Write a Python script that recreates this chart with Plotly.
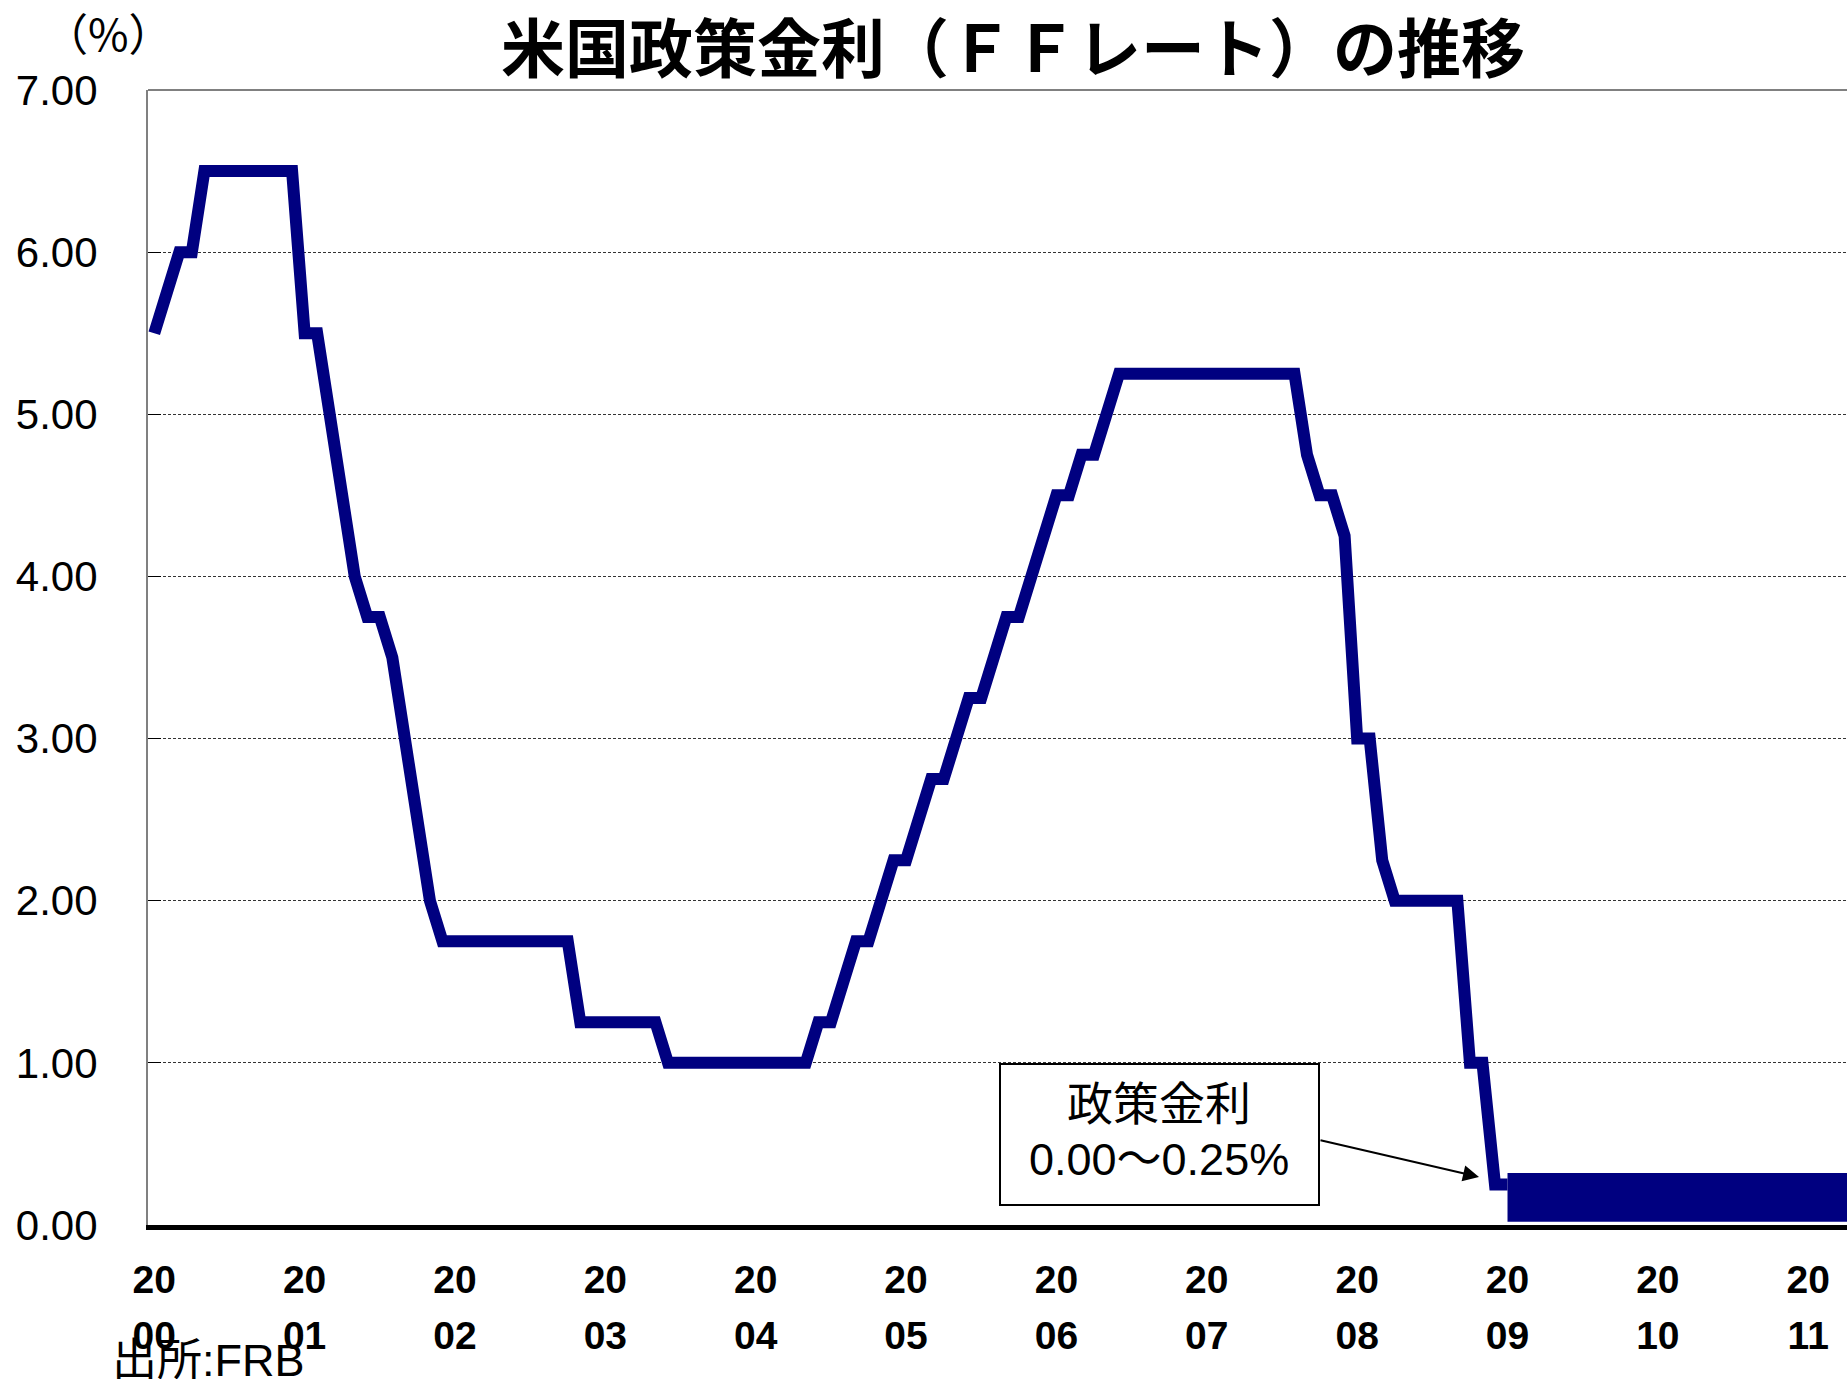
import plotly.graph_objects as go

# ---------------- data ----------------
start_month = "2000-01"
# month-end FF target rate (%), Jan 2000 .. Jan 2009
rates = [
    5.50, 5.75, 6.00, 6.00, 6.50, 6.50, 6.50, 6.50, 6.50, 6.50, 6.50, 6.50,   # 2000
    5.50, 5.50, 5.00, 4.50, 4.00, 3.75, 3.75, 3.50, 3.00, 2.50, 2.00, 1.75,   # 2001
    1.75, 1.75, 1.75, 1.75, 1.75, 1.75, 1.75, 1.75, 1.75, 1.75, 1.25, 1.25,   # 2002
    1.25, 1.25, 1.25, 1.25, 1.25, 1.00, 1.00, 1.00, 1.00, 1.00, 1.00, 1.00,   # 2003
    1.00, 1.00, 1.00, 1.00, 1.00, 1.25, 1.25, 1.50, 1.75, 1.75, 2.00, 2.25,   # 2004
    2.25, 2.50, 2.75, 2.75, 3.00, 3.25, 3.25, 3.50, 3.75, 3.75, 4.00, 4.25,   # 2005
    4.50, 4.50, 4.75, 4.75, 5.00, 5.25, 5.25, 5.25, 5.25, 5.25, 5.25, 5.25,   # 2006
    5.25, 5.25, 5.25, 5.25, 5.25, 5.25, 5.25, 5.25, 4.75, 4.50, 4.50, 4.25,   # 2007
    3.00, 3.00, 2.25, 2.00, 2.00, 2.00, 2.00, 2.00, 2.00, 1.00, 1.00, 0.25,   # 2008
    0.25,                                                                     # 2009
]
# policy-rate band (0.00-0.25%) drawn as a thick block from 2009
band_months = ["2009-01", "2011-12"]
band_low = [0.02, 0.02]
band_high = [0.32, 0.32]

tick_years = list(range(2000, 2012))
tick_century = ["20" for y in tick_years]
tick_suffix = [f"{y % 100:02d}" for y in tick_years]
y_ticks = [0, 1, 2, 3, 4, 5, 6, 7]

title_text = "米国政策金利（ＦＦレート）の推移"
unit_text = "（%）"
source_text = "出所:FRB"
box_line1 = "政策金利"
box_line2 = "0.00～0.25%"

# ---------------- helpers ----------------
def month_index(s):
    y, m = map(int, s.split("-"))
    y0, m0 = map(int, start_month.split("-"))
    return (y - y0) * 12 + (m - m0)

x_rates = list(range(len(rates)))
x_band = [month_index(s) for s in band_months]
tick_vals = [month_index(f"{y}-01") for y in tick_years]

W, H = 1847, 1379
L, T, R, B = 148, 90, 0, 154
PW, PH = W - L - R, H - T - B
MONTH_PX = 12.53

def px(xp):
    return (xp - L) / PW

def py(yp):
    return 1 - (yp - T) / PH

NAVY = "#000080"
x_range = [-0.5, -0.5 + PW / MONTH_PX]

fig = go.Figure()
# band on the overlaid axis (same range) so that axis draws its labels
fig.add_trace(go.Scatter(x=x_band, y=band_low, mode="lines", xaxis="x2",
                         line=dict(width=0, color=NAVY), hoverinfo="skip", showlegend=False))
fig.add_trace(go.Scatter(x=x_band, y=band_high, mode="lines", fill="tonexty", xaxis="x2",
                         fillcolor=NAVY, line=dict(width=0, color=NAVY),
                         hoverinfo="skip", showlegend=False))
fig.add_trace(go.Scatter(x=x_rates, y=rates, mode="lines",
                         line=dict(width=12, color=NAVY), showlegend=False))

tick_font = dict(family="Liberation Sans, Arial", size=39, weight="bold", color="black")

fig.update_layout(
    width=W, height=H,
    margin=dict(l=L, r=R, t=T, b=B, pad=0),
    paper_bgcolor="white", plot_bgcolor="white",
    font=dict(family="Liberation Sans, Arial, Noto Sans CJK JP", color="black"),
    showlegend=False,
    xaxis=dict(
        range=x_range,
        tickmode="array", tickvals=tick_vals, ticktext=tick_century,
        tickfont=tick_font,
        showgrid=False, zeroline=False,
        showline=True, linecolor="black", linewidth=5,
        ticks="", ticklabelstandoff=16,
    ),
    xaxis2=dict(
        range=x_range, overlaying="x", anchor="y", side="bottom",
        tickmode="array", tickvals=tick_vals, ticktext=tick_suffix,
        tickfont=tick_font,
        showgrid=False, zeroline=False, showline=False,
        ticks="", ticklabelstandoff=84,
    ),
    yaxis=dict(
        range=[0, 7],
        tickmode="array", tickvals=y_ticks, tickformat=".2f",
        tickfont=dict(family="Liberation Sans, Arial", size=42, color="black"),
        showgrid=True, gridcolor="#333333", gridwidth=1, griddash="3px,2px",
        zeroline=False,
        showline=True, linecolor="#808080", linewidth=2,
        ticks="inside", ticklen=13, tickcolor="black", tickwidth=1,
        ticklabelstandoff=40,
    ),
)

# solid top border of the plot area
fig.add_shape(type="line", xref="paper", yref="paper", x0=0, x1=1, y0=1, y1=1,
              line=dict(color="#808080", width=2))

# annotation box
fig.add_shape(type="rect", xref="paper", yref="paper",
              x0=px(1000), x1=px(1319), y0=py(1205), y1=py(1064),
              line=dict(color="black", width=2), fillcolor="white", layer="above")

annos = [
    dict(text=title_text, x=px(1013), y=py(44), xref="paper", yref="paper",
         showarrow=False, font=dict(family="Noto Sans CJK JP", size=64, weight="bold", color="black"),
         xanchor="center", yanchor="middle"),
    dict(text=unit_text, x=px(108), y=py(32), xref="paper", yref="paper",
         showarrow=False, font=dict(family="Noto Sans CJK JP", size=44, color="black"),
         xanchor="center", yanchor="middle"),
    dict(text=source_text, x=px(110), y=py(1360), xref="paper", yref="paper",
         showarrow=False, font=dict(family="Liberation Sans, Noto Sans CJK JP", size=45, color="black"),
         xanchor="left", yanchor="middle"),
    dict(text=box_line1, x=px(1159), y=py(1100), xref="paper", yref="paper",
         showarrow=False, font=dict(family="Noto Sans CJK JP", size=46, color="black"),
         xanchor="center", yanchor="middle"),
    dict(text=box_line2, x=px(1159), y=py(1159), xref="paper", yref="paper",
         showarrow=False, font=dict(family="Liberation Sans, Noto Sans CJK JP", size=45, color="black"),
         xanchor="center", yanchor="middle"),
    dict(text="", x=px(1479), y=py(1177), xref="paper", yref="paper",
         ax=1319 - 1479, ay=1140 - 1177, axref="pixel", ayref="pixel",
         showarrow=True, arrowhead=2, arrowsize=1.6, arrowwidth=2, arrowcolor="black"),
]
fig.update_layout(annotations=annos)

fig.write_html(
    "out.html",
    config={"displayModeBar": False},
    post_script="document.body.style.margin='0';document.body.style.overflow='hidden';",
)
